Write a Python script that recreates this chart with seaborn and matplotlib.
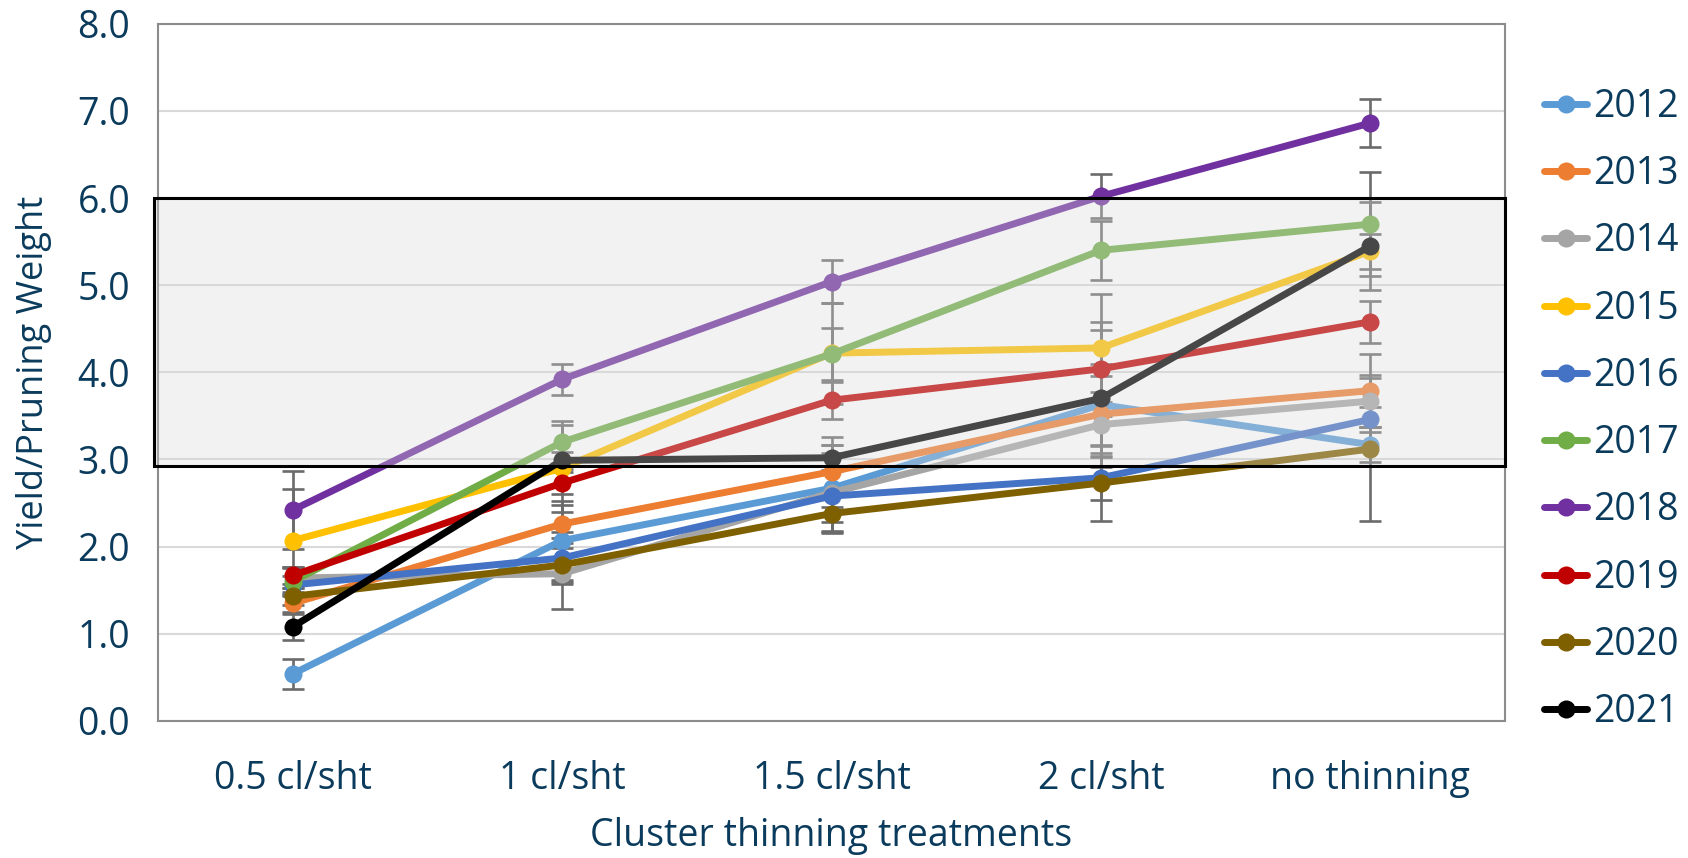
import matplotlib
matplotlib.use("Agg")
import matplotlib.pyplot as plt
import matplotlib.transforms as mtransforms
from matplotlib.patches import Rectangle
import pandas as pd
import seaborn as sns

treatments = ['0.5 cl/sht', '1 cl/sht', '1.5 cl/sht', '2 cl/sht', 'no thinning']
years = ['2012', '2013', '2014', '2015', '2016', '2017', '2018', '2019', '2020', '2021']

y2012 = [0.54, 2.07, 2.67, 3.63, 3.17]
y2013 = [1.35, 2.26, 2.86, 3.52, 3.79]
y2014 = [1.64, 1.69, 2.62, 3.40, 3.67]
y2015 = [2.07, 2.90, 4.22, 4.28, 5.39]
y2016 = [1.56, 1.87, 2.58, 2.79, 3.46]
y2017 = [1.60, 3.20, 4.21, 5.40, 5.70]
y2018 = [2.42, 3.92, 5.04, 6.02, 6.86]
y2019 = [1.67, 2.73, 3.68, 4.04, 4.58]
y2020 = [1.43, 1.79, 2.38, 2.73, 3.12]
y2021 = [1.08, 2.99, 3.02, 3.70, 5.45]

e2012 = [0.17, 0.45, 0.50, 0.46, 0.20]
e2013 = [0.10, 0.22, 0.40, 0.44, 0.42]
e2014 = [0.12, 0.41, 0.46, 0.37, 0.30]
e2015 = [0.59, 0.50, 0.58, 0.62, 0.20]
e2016 = [0.10, 0.30, 0.30, 0.25, 0.14]
e2017 = [0.17, 0.24, 0.30, 0.34, 0.60]
e2018 = [0.45, 0.18, 0.25, 0.25, 0.28]
e2019 = [0.10, 0.13, 0.21, 0.54, 0.24]
e2020 = [0.10, 0.20, 0.20, 0.43, 0.82]
e2021 = [0.15, 0.10, 0.15, 0.79, 0.50]

colors = ['#5B9BD5', '#ED7D31', '#A5A5A5', '#FFC000', '#4472C4',
          '#70AD47', '#7030A0', '#C00000', '#7F6000', '#000000']

band_low, band_high = 2.93, 6.0

values = [y2012, y2013, y2014, y2015, y2016, y2017, y2018, y2019, y2020, y2021]
errors = [e2012, e2013, e2014, e2015, e2016, e2017, e2018, e2019, e2020, e2021]

rows = []
for yr, vals, errs in zip(years, values, errors):
    for t, v, e in zip(treatments, vals, errs):
        rows.append({'treatment': t, 'ratio': v, 'err': e, 'year': yr})
df = pd.DataFrame(rows)

navy = '#0B3B5C'
sns.set_style('white')
plt.rcParams['font.family'] = ['Open Sans', 'DejaVu Sans']

fig = plt.figure(figsize=(16.88, 8.58), dpi=100)
ax = fig.add_axes([0.0936, 0.1597, 0.798, 0.8127])

sns.lineplot(data=df, x='treatment', y='ratio', hue='year', palette=colors,
             marker='o', markersize=13, markeredgewidth=0, linewidth=5,
             sort=False, errorbar=None, legend=False, ax=ax, zorder=3)
line_handles = list(ax.lines)

for yr in years:
    sub = df[df['year'] == yr]
    ax.errorbar(sub['treatment'], sub['ratio'], yerr=sub['err'], fmt='none',
                ecolor='#6B6B6B', elinewidth=1.9, capsize=8, capthick=1.9, zorder=2)

# shaded target band drawn over the lines like the Excel shape
trans = mtransforms.blended_transform_factory(ax.transAxes, ax.transData)
ax.add_patch(Rectangle((-0.003, band_low), 1.003, band_high - band_low, transform=trans,
                       facecolor=(0.85, 0.85, 0.85, 0.33), edgecolor='none',
                       zorder=4, clip_on=False))
ax.add_patch(Rectangle((-0.003, band_low), 1.003, band_high - band_low, transform=trans,
                       facecolor='none', edgecolor='black', linewidth=2.2,
                       zorder=5, clip_on=False))

ax.set_xlim(-0.5, 4.5)
ax.set_ylim(0, 8)
ax.set_yticks([0, 1, 2, 3, 4, 5, 6, 7, 8])
ax.set_yticklabels([f'{v:.1f}' for v in range(9)])
ax.yaxis.grid(True, color='#D9D9D9', linewidth=1.5)
ax.xaxis.grid(False)
ax.set_axisbelow(True)
for s in ax.spines.values():
    s.set_color('#8C8C8C')
    s.set_linewidth(1.5)

ax.tick_params(axis='both', length=0, labelsize=27, labelcolor=navy)
ax.tick_params(axis='y', pad=20)
ax.tick_params(axis='x', pad=28)
ax.set_xlabel('Cluster thinning treatments', fontsize=27, color=navy, labelpad=14)
ax.set_ylabel('Yield/Pruning Weight', fontsize=26, color=navy, labelpad=18)

fig.legend(line_handles, years, loc='upper left', bbox_to_anchor=(0.906, 0.915),
           frameon=False, fontsize=27, labelcolor=navy, handlelength=1.15,
           handletextpad=0.15, labelspacing=0.78, borderaxespad=0)

fig.savefig('out.png', dpi=100)
